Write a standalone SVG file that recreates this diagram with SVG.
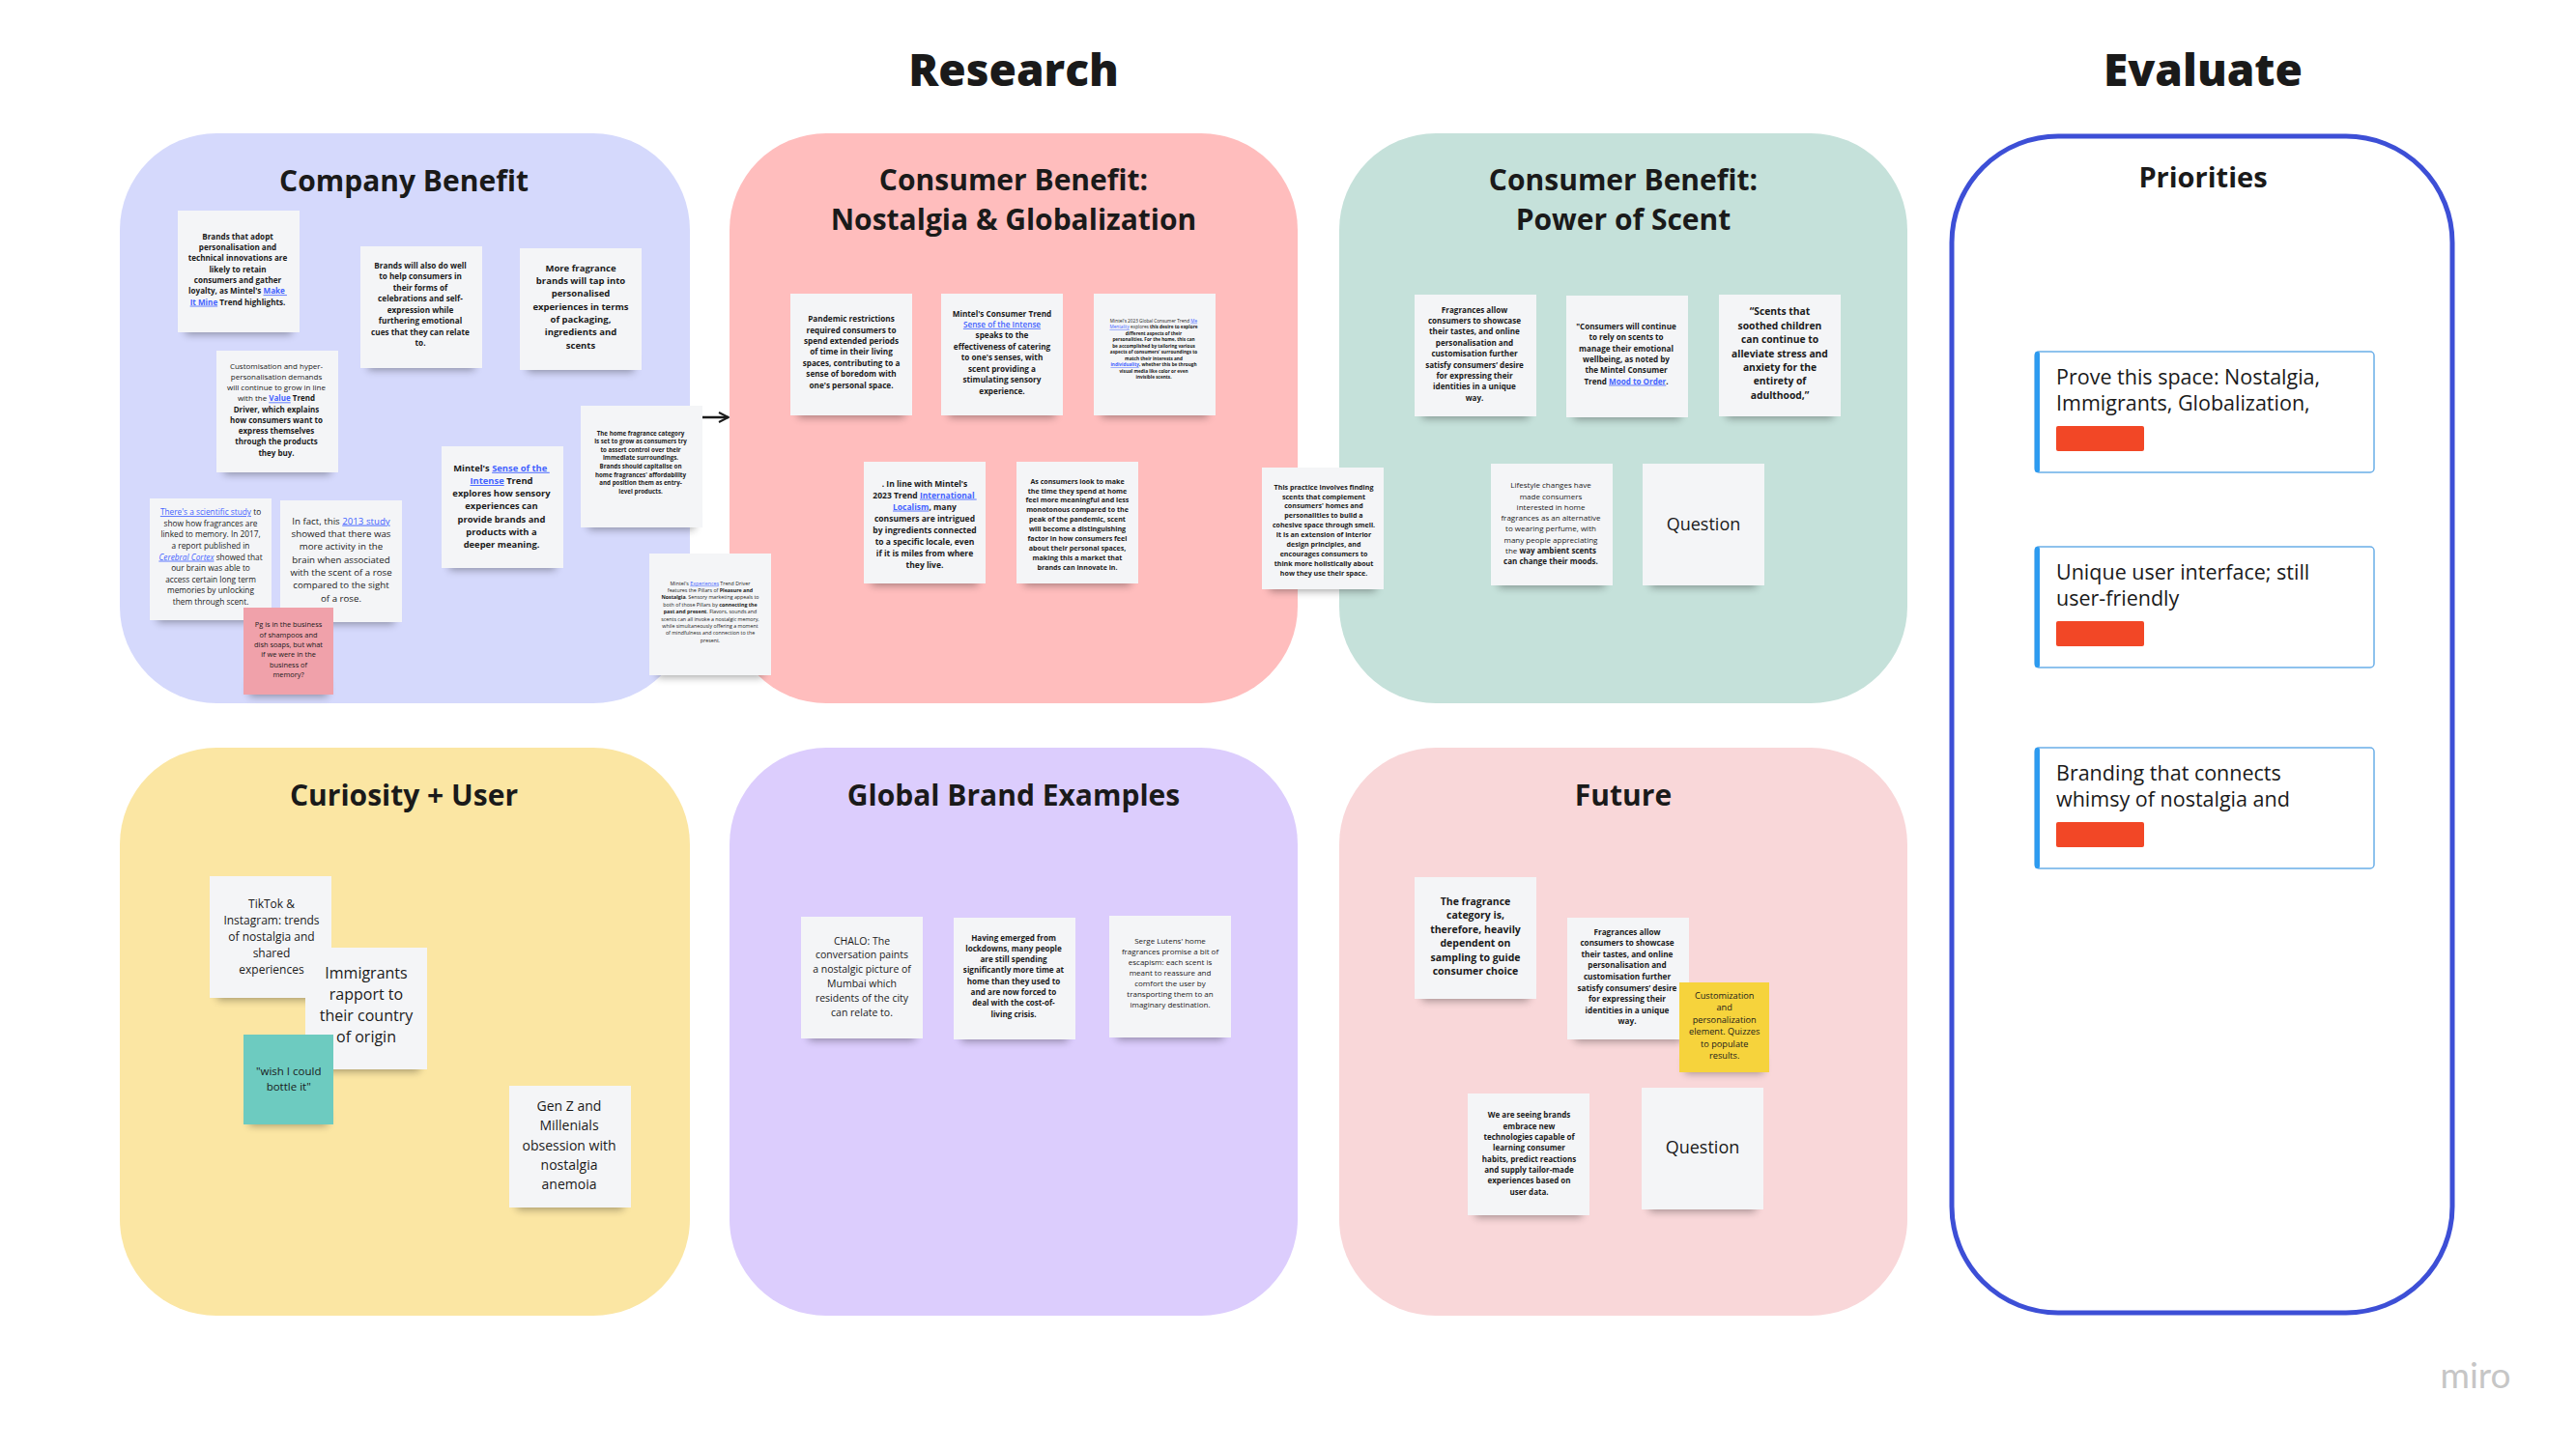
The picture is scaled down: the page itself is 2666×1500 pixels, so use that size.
<svg xmlns="http://www.w3.org/2000/svg" width="2666" height="1500" viewBox="0 0 2666 1500">
<defs>
<filter id="blur" x="-20%" y="-100%" width="140%" height="300%"><feGaussianBlur stdDeviation="4"/></filter>
<marker id="arr" viewBox="0 0 12 12" refX="11" refY="6" markerWidth="12" markerHeight="12" markerUnits="userSpaceOnUse" orient="auto"><path d="M1,1 L11,6 L1,11" fill="none" stroke="#1a1a1a" stroke-width="2"/></marker>
</defs>
<style>
.hd{font-family:"Open Sans","Liberation Sans",sans-serif;font-weight:800;font-size:46px;fill:#1a1a1a;text-anchor:middle}
.ft{font-family:"Open Sans","Liberation Sans",sans-serif;font-weight:700;font-size:30px;fill:#1a1a1a;text-anchor:middle}
.sh{fill:#000;opacity:.35;filter:url(#blur)}
.st{fill:#f4f5f7}
.t{font-family:"Open Sans","Liberation Sans",sans-serif;fill:#1a1a1a;text-anchor:middle}
.b{font-weight:700}
.n{font-weight:400}
.lk{fill:#4262ff;text-decoration:underline}
.card{fill:#fff;stroke:#6aaee8;stroke-width:1.5}
.bar{fill:#2d9bf0}
.tag{fill:#f24726}
.ct{font-family:"Open Sans","Liberation Sans",sans-serif;font-size:21.5px;fill:#1a1a1a}
</style>
<rect width="2666" height="1500" fill="#ffffff"/>
<text class="hd" x="1049" y="89">Research</text>
<text class="hd" x="2280" y="89">Evaluate</text>

<g id="frame-company"><rect x="124" y="138" width="590" height="590" rx="100" fill="#d5d9fc"/><text class="ft" x="418" y="198">Company Benefit</text></g>
<g id="frame-nostalgia"><rect x="755" y="138" width="588" height="590" rx="100" fill="#ffbdbd"/><text class="ft" x="1049" y="197">Consumer Benefit:</text><text class="ft" x="1049" y="238">Nostalgia &amp; Globalization</text></g>
<g id="frame-scent"><rect x="1386" y="138" width="588" height="590" rx="100" fill="#c5e1da"/><text class="ft" x="1680" y="197">Consumer Benefit:</text><text class="ft" x="1680" y="238">Power of Scent</text></g>
<g id="frame-curiosity"><rect x="124" y="774" width="590" height="588" rx="100" fill="#fbe6a3"/><text class="ft" x="418" y="834">Curiosity + User</text></g>
<g id="frame-global"><rect x="755" y="774" width="588" height="588" rx="100" fill="#dccdfd"/><text class="ft" x="1049" y="834">Global Brand Examples</text></g>
<g id="frame-future"><rect x="1386" y="774" width="588" height="588" rx="100" fill="#f9d7d9"/><text class="ft" x="1680" y="834">Future</text></g>
<g id="frame-priorities"><rect x="2020" y="141" width="518" height="1218" rx="110" fill="#fff" stroke="#3d4fd6" stroke-width="5"/><text class="ft" x="2280" y="194" style="font-size:29px">Priorities</text></g>

<g id="connectors"><line x1="715" y1="432" x2="754" y2="432" stroke="#1a1a1a" stroke-width="2.5" marker-end="url(#arr)"/></g>

<!-- Company Benefit stickies -->
<g id="s1" transform="translate(184,218)"><rect class="sh" x="8" y="110" width="110" height="18"/><rect class="st" width="126" height="126"/>
<text class="t b" font-size="8.1"><tspan x="62" y="29.5">Brands that adopt</tspan><tspan x="62" dy="11.35">personalisation and</tspan><tspan x="62" dy="11.35">technical innovations are</tspan><tspan x="62" dy="11.35">likely to retain</tspan><tspan x="62" dy="11.35">consumers and gather</tspan><tspan x="62" dy="11.35">loyalty, as Mintel's <tspan class="lk">Make </tspan></tspan><tspan x="62" dy="11.35"><tspan class="lk">It Mine</tspan> Trend highlights.</tspan></text></g>

<g id="s2" transform="translate(373,255)"><rect class="sh" x="8" y="110" width="110" height="18"/><rect class="st" width="126" height="126"/>
<text class="t b" font-size="8.2"><tspan x="62" y="22.8">Brands will also do well</tspan><tspan x="62" dy="11.47">to help consumers in</tspan><tspan x="62" dy="11.47">their forms of</tspan><tspan x="62" dy="11.47">celebrations and self-</tspan><tspan x="62" dy="11.47">expression while</tspan><tspan x="62" dy="11.47">furthering emotional</tspan><tspan x="62" dy="11.47">cues that they can relate</tspan><tspan x="62" dy="11.47">to.</tspan></text></g>

<g id="s3" transform="translate(538,257)"><rect class="sh" x="8" y="110" width="110" height="18"/><rect class="st" width="126" height="126"/>
<text class="t b" font-size="9.5"><tspan x="63" y="23.6">More fragrance</tspan><tspan x="63" dy="13.33">brands will tap into</tspan><tspan x="63" dy="13.33">personalised</tspan><tspan x="63" dy="13.33">experiences in terms</tspan><tspan x="63" dy="13.33">of packaging,</tspan><tspan x="63" dy="13.33">ingredients and</tspan><tspan x="63" dy="13.33">scents</tspan></text></g>

<g id="s4" transform="translate(224,363)"><rect class="sh" x="8" y="110" width="110" height="18"/><rect class="st" width="126" height="126"/>
<text class="t" font-size="8"><tspan x="62" y="18.7">Customisation and hyper-</tspan><tspan x="62" dy="11.25">personalisation demands</tspan><tspan x="62" dy="11.25">will continue to grow in line</tspan><tspan x="62" dy="11.25">with the <tspan class="lk b">Value</tspan><tspan class="b"> Trend</tspan></tspan><tspan class="b" x="62" dy="11.25">Driver, which explains</tspan><tspan class="b" x="62" dy="11.25">how consumers want to</tspan><tspan class="b" x="62" dy="11.25">express themselves</tspan><tspan class="b" x="62" dy="11.25">through the products</tspan><tspan class="b" x="62" dy="11.25">they buy.</tspan></text></g>

<g id="s5" transform="translate(457,462)"><rect class="sh" x="8" y="110" width="110" height="18"/><rect class="st" width="126" height="126"/>
<text class="t b" font-size="9.4"><tspan x="62" y="25.8">Mintel's <tspan class="lk">Sense of the </tspan></tspan><tspan x="62" dy="13.2"><tspan class="lk">Intense</tspan> Trend</tspan><tspan x="62" dy="13.2">explores how sensory</tspan><tspan x="62" dy="13.2">experiences can</tspan><tspan x="62" dy="13.2">provide brands and</tspan><tspan x="62" dy="13.2">products with a</tspan><tspan x="62" dy="13.2">deeper meaning.</tspan></text></g>

<g id="s6" transform="translate(601,420)"><rect class="sh" x="8" y="110" width="110" height="18"/><rect class="st" width="126" height="126"/>
<text class="t b" font-size="6.2"><tspan x="62" y="30.6">The home fragrance category</tspan><tspan x="62" dy="8.6">is set to grow as consumers try</tspan><tspan x="62" dy="8.6">to assert control over their</tspan><tspan x="62" dy="8.6">immediate surroundings.</tspan><tspan x="62" dy="8.6">Brands should capitalise on</tspan><tspan x="62" dy="8.6">home fragrances' affordability</tspan><tspan x="62" dy="8.6">and position them as entry-</tspan><tspan x="62" dy="8.6">level products.</tspan></text></g>

<g id="s7" transform="translate(155,516)"><rect class="sh" x="8" y="110" width="110" height="18"/><rect class="st" width="126" height="126"/>
<text class="t" font-size="8.3"><tspan x="63" y="17.2"><tspan class="lk">There's a scientific study</tspan> to</tspan><tspan x="63" dy="11.6">show how fragrances are</tspan><tspan x="63" dy="11.6">linked to memory. In 2017,</tspan><tspan x="63" dy="11.6">a report published in</tspan><tspan x="63" dy="11.6"><tspan class="lk" font-style="italic">Cerebral Cortex</tspan> showed that</tspan><tspan x="63" dy="11.6">our brain was able to</tspan><tspan x="63" dy="11.6">access certain long term</tspan><tspan x="63" dy="11.6">memories by unlocking</tspan><tspan x="63" dy="11.6">them through scent.</tspan></text></g>

<g id="s8" transform="translate(290,518)"><rect class="sh" x="8" y="110" width="110" height="18"/><rect class="st" width="126" height="126"/>
<text class="t" font-size="9.7"><tspan x="63" y="24.6">In fact, this <tspan class="lk">2013 study</tspan></tspan><tspan x="63" dy="13.33">showed that there was</tspan><tspan x="63" dy="13.33">more activity in the</tspan><tspan x="63" dy="13.33">brain when associated</tspan><tspan x="63" dy="13.33">with the scent of a rose</tspan><tspan x="63" dy="13.33">compared to the sight</tspan><tspan x="63" dy="13.33">of a rose.</tspan></text></g>

<g id="pink" transform="translate(252,629)"><rect class="sh" x="6" y="76" width="81" height="16"/><rect fill="#f0a1aa" width="93" height="90"/>
<text class="t" font-size="7.4"><tspan x="46.5" y="20.2">Pg is in the business</tspan><tspan x="46.5" dy="10.4">of shampoos and</tspan><tspan x="46.5" dy="10.4">dish soaps, but what</tspan><tspan x="46.5" dy="10.4">if we were in the</tspan><tspan x="46.5" dy="10.4">business of</tspan><tspan x="46.5" dy="10.4">memory?</tspan></text></g>

<g id="s9" transform="translate(672,573)"><rect class="sh" x="8" y="110" width="110" height="18"/><rect class="st" width="126" height="126"/>
<text class="t" font-size="5.3"><tspan x="63" y="32.6">Mintel's <tspan class="lk">Experiences</tspan> Trend Driver</tspan><tspan x="63" dy="7.4">features the Pillars of <tspan class="b">Pleasure and</tspan></tspan><tspan x="63" dy="7.4"><tspan class="b">Nostalgia</tspan>. Sensory marketing appeals to</tspan><tspan x="63" dy="7.4">both of those Pillars by <tspan class="b">connecting the</tspan></tspan><tspan x="63" dy="7.4"><tspan class="b">past and present</tspan>. Flavors, sounds and</tspan><tspan x="63" dy="7.4">scents can all invoke a nostalgic memory,</tspan><tspan x="63" dy="7.4">while simultaneously offering a moment</tspan><tspan x="63" dy="7.4">of mindfulness and connection to the</tspan><tspan x="63" dy="7.4">present.</tspan></text></g>

<!-- Nostalgia stickies -->
<g id="n1" transform="translate(818,304)"><rect class="sh" x="8" y="110" width="110" height="18"/><rect class="st" width="126" height="126"/>
<text class="t b" font-size="8.2"><tspan x="63" y="29.2">Pandemic restrictions</tspan><tspan x="63" dy="11.43">required consumers to</tspan><tspan x="63" dy="11.43">spend extended periods</tspan><tspan x="63" dy="11.43">of time in their living</tspan><tspan x="63" dy="11.43">spaces, contributing to a</tspan><tspan x="63" dy="11.43">sense of boredom with</tspan><tspan x="63" dy="11.43">one's personal space.</tspan></text></g>

<g id="n2" transform="translate(974,304)"><rect class="sh" x="8" y="110" width="110" height="18"/><rect class="st" width="126" height="126"/>
<text class="t b" font-size="8.2"><tspan x="63" y="23.5">Mintel's Consumer Trend</tspan><tspan x="63" dy="11.43" class="lk" font-weight="600">Sense of the Intense</tspan><tspan x="63" dy="11.43">speaks to the</tspan><tspan x="63" dy="11.43">effectiveness of catering</tspan><tspan x="63" dy="11.43">to one's senses, with</tspan><tspan x="63" dy="11.43">scent providing a</tspan><tspan x="63" dy="11.43">stimulating sensory</tspan><tspan x="63" dy="11.43">experience.</tspan></text></g>

<g id="n3" transform="translate(1132,304)"><rect class="sh" x="8" y="110" width="110" height="18"/><rect class="st" width="126" height="126"/>
<text class="t b" font-size="4.7"><tspan x="62" y="29.7" class="n">Mintel's 2023 Global Consumer Trend <tspan class="lk">Me</tspan></tspan><tspan x="62" dy="6.5"><tspan class="lk n">Mentality</tspan><tspan class="n"> explores</tspan> this desire to explore</tspan><tspan x="62" dy="6.5">different aspects of their</tspan><tspan x="62" dy="6.5">personalities. For the home, this can</tspan><tspan x="62" dy="6.5">be accomplished by tailoring various</tspan><tspan x="62" dy="6.5">aspects of consumers' surroundings to</tspan><tspan x="62" dy="6.5">match their interests and</tspan><tspan x="62" dy="6.5"><tspan class="lk">individuality</tspan>, whether this be through</tspan><tspan x="62" dy="6.5">visual media like color or even</tspan><tspan x="62" dy="6.5">invisible scents.</tspan></text></g>

<g id="n4" transform="translate(894,478)"><rect class="sh" x="8" y="110" width="110" height="18"/><rect class="st" width="126" height="126"/>
<text class="t b" font-size="8.5"><tspan x="63" y="25.6">. In line with Mintel's</tspan><tspan x="63" dy="12">2023 Trend <tspan class="lk">International </tspan></tspan><tspan x="63" dy="12"><tspan class="lk">Localism</tspan>, many</tspan><tspan x="63" dy="12">consumers are intrigued</tspan><tspan x="63" dy="12">by ingredients connected</tspan><tspan x="63" dy="12">to a specific locale, even</tspan><tspan x="63" dy="12">if it is miles from where</tspan><tspan x="63" dy="12">they live.</tspan></text></g>

<g id="n5" transform="translate(1052,478)"><rect class="sh" x="8" y="110" width="110" height="18"/><rect class="st" width="126" height="126"/>
<text class="t b" font-size="7.1"><tspan x="63" y="22.6">As consumers look to make</tspan><tspan x="63" dy="9.94">the time they spend at home</tspan><tspan x="63" dy="9.94">feel more meaningful and less</tspan><tspan x="63" dy="9.94">monotonous compared to the</tspan><tspan x="63" dy="9.94">peak of the pandemic, scent</tspan><tspan x="63" dy="9.94">will become a distinguishing</tspan><tspan x="63" dy="9.94">factor in how consumers feel</tspan><tspan x="63" dy="9.94">about their personal spaces,</tspan><tspan x="63" dy="9.94">making this a market that</tspan><tspan x="63" dy="9.94">brands can innovate in.</tspan></text></g>

<g id="n6" transform="translate(1306,484)"><rect class="sh" x="8" y="110" width="110" height="18"/><rect class="st" width="126" height="126"/>
<text class="t b" font-size="7.1"><tspan x="64" y="22.6">This practice involves finding</tspan><tspan x="64" dy="9.9">scents that complement</tspan><tspan x="64" dy="9.9">consumers' homes and</tspan><tspan x="64" dy="9.9">personalities to build a</tspan><tspan x="64" dy="9.9">cohesive space through smell.</tspan><tspan x="64" dy="9.9">It is an extension of interior</tspan><tspan x="64" dy="9.9">design principles, and</tspan><tspan x="64" dy="9.9">encourages consumers to</tspan><tspan x="64" dy="9.9">think more holistically about</tspan><tspan x="64" dy="9.9">how they use their space.</tspan></text></g>

<!-- Power of Scent stickies -->
<g id="p1" transform="translate(1464,305)"><rect class="sh" x="8" y="110" width="110" height="18"/><rect class="st" width="126" height="126"/>
<text class="t b" font-size="8.1"><tspan x="62" y="18.5">Fragrances allow</tspan><tspan x="62" dy="11.4">consumers to showcase</tspan><tspan x="62" dy="11.4">their tastes, and online</tspan><tspan x="62" dy="11.4">personalisation and</tspan><tspan x="62" dy="11.4">customisation further</tspan><tspan x="62" dy="11.4">satisfy consumers’ desire</tspan><tspan x="62" dy="11.4">for expressing their</tspan><tspan x="62" dy="11.4">identities in a unique</tspan><tspan x="62" dy="11.4">way.</tspan></text></g>

<g id="p2" transform="translate(1621,306)"><rect class="sh" x="8" y="110" width="110" height="18"/><rect class="st" width="126" height="126"/>
<text class="t b" font-size="8.1"><tspan x="62" y="34.8">"Consumers will continue</tspan><tspan x="62" dy="11.35">to rely on scents to</tspan><tspan x="62" dy="11.35">manage their emotional</tspan><tspan x="62" dy="11.35">wellbeing, as noted by</tspan><tspan x="62" dy="11.35">the Mintel Consumer</tspan><tspan x="62" dy="11.35">Trend <tspan class="lk">Mood to Order</tspan>.</tspan></text></g>

<g id="p3" transform="translate(1779,305)"><rect class="sh" x="8" y="110" width="110" height="18"/><rect class="st" width="126" height="126"/>
<text class="t b" font-size="10.3"><tspan x="63" y="21.4">“Scents that</tspan><tspan x="63" dy="14.4">soothed children</tspan><tspan x="63" dy="14.4">can continue to</tspan><tspan x="63" dy="14.4">alleviate stress and</tspan><tspan x="63" dy="14.4">anxiety for the</tspan><tspan x="63" dy="14.4">entirety of</tspan><tspan x="63" dy="14.4">adulthood,”</tspan></text></g>

<g id="p4" transform="translate(1543,480)"><rect class="sh" x="8" y="110" width="110" height="18"/><rect class="st" width="126" height="126"/>
<text class="t" font-size="8"><tspan x="62" y="25.4">Lifestyle changes have</tspan><tspan x="62" dy="11.25">made consumers</tspan><tspan x="62" dy="11.25">interested in home</tspan><tspan x="62" dy="11.25">fragrances as an alternative</tspan><tspan x="62" dy="11.25">to wearing perfume, with</tspan><tspan x="62" dy="11.25">many people appreciating</tspan><tspan x="62" dy="11.25">the <tspan class="b">way ambient scents</tspan></tspan><tspan x="62" dy="11.25" class="b">can change their moods.</tspan></text></g>

<g id="p5" transform="translate(1700,480)"><rect class="sh" x="8" y="110" width="110" height="18"/><rect class="st" width="126" height="126"/>
<text class="t" font-size="18" x="63" y="69">Question</text></g>

<!-- Curiosity + User stickies -->
<g id="c1" transform="translate(217,907)"><rect class="sh" x="8" y="110" width="110" height="18"/><rect class="st" width="126" height="126"/>
<text class="t" font-size="12"><tspan x="64" y="33.3">TikTok &amp;</tspan><tspan x="64" dy="16.8">Instagram: trends</tspan><tspan x="64" dy="16.8">of nostalgia and</tspan><tspan x="64" dy="16.8">shared</tspan><tspan x="64" dy="16.8">experiences</tspan></text></g>

<g id="c2" transform="translate(316,981)"><rect class="sh" x="8" y="110" width="110" height="18"/><rect class="st" width="126" height="126"/>
<text class="t" font-size="16"><tspan x="63" y="32">Immigrants</tspan><tspan x="63" dy="22">rapport to</tspan><tspan x="63" dy="22">their country</tspan><tspan x="63" dy="22">of origin</tspan></text></g>

<g id="c3" transform="translate(252,1071)"><rect class="sh" x="6" y="78" width="81" height="16"/><rect fill="#6dcbc0" width="93" height="93"/>
<text class="t" font-size="11.5"><tspan x="46.7" y="41.5">"wish I could</tspan><tspan x="46.7" dy="16">bottle it"</tspan></text></g>

<g id="c4" transform="translate(527,1124)"><rect class="sh" x="8" y="110" width="110" height="18"/><rect class="st" width="126" height="126"/>
<text class="t" font-size="14"><tspan x="62" y="26.2">Gen Z and</tspan><tspan x="62" dy="20.2">Millenials</tspan><tspan x="62" dy="20.2">obsession with</tspan><tspan x="62" dy="20.2">nostalgia</tspan><tspan x="62" dy="20.2">anemoia</tspan></text></g>

<!-- Global Brand Examples stickies -->
<g id="g1" transform="translate(829,949)"><rect class="sh" x="8" y="110" width="110" height="18"/><rect class="st" width="126" height="126"/>
<text class="t" font-size="10.5"><tspan x="63" y="28.5">CHALO: The</tspan><tspan x="63" dy="14.8">conversation paints</tspan><tspan x="63" dy="14.8">a nostalgic picture of</tspan><tspan x="63" dy="14.8">Mumbai which</tspan><tspan x="63" dy="14.8">residents of the city</tspan><tspan x="63" dy="14.8">can relate to.</tspan></text></g>

<g id="g2" transform="translate(987,950)"><rect class="sh" x="8" y="110" width="110" height="18"/><rect class="st" width="126" height="126"/>
<text class="t b" font-size="8.1"><tspan x="62" y="23.5">Having emerged from</tspan><tspan x="62" dy="11.33">lockdowns, many people</tspan><tspan x="62" dy="11.33">are still spending</tspan><tspan x="62" dy="11.33">significantly more time at</tspan><tspan x="62" dy="11.33">home than they used to</tspan><tspan x="62" dy="11.33">and are now forced to</tspan><tspan x="62" dy="11.33">deal with the cost-of-</tspan><tspan x="62" dy="11.33">living crisis.</tspan></text></g>

<g id="g3" transform="translate(1148,948)"><rect class="sh" x="8" y="110" width="110" height="18"/><rect class="st" width="126" height="126"/>
<text class="t" font-size="8"><tspan x="63" y="28.7">Serge Lutens' home</tspan><tspan x="63" dy="11">fragrances promise a bit of</tspan><tspan x="63" dy="11">escapism: each scent is</tspan><tspan x="63" dy="11">meant to reassure and</tspan><tspan x="63" dy="11">comfort the user by</tspan><tspan x="63" dy="11">transporting them to an</tspan><tspan x="63" dy="11">imaginary destination.</tspan></text></g>

<!-- Future stickies -->
<g id="f1" transform="translate(1464,908)"><rect class="sh" x="8" y="110" width="110" height="18"/><rect class="st" width="126" height="126"/>
<text class="t b" font-size="10.5"><tspan x="63" y="28.5">The fragrance</tspan><tspan x="63" dy="14.5">category is,</tspan><tspan x="63" dy="14.5">therefore, heavily</tspan><tspan x="63" dy="14.5">dependent on</tspan><tspan x="63" dy="14.5">sampling to guide</tspan><tspan x="63" dy="14.5">consumer choice</tspan></text></g>

<g id="f2" transform="translate(1622,950)"><rect class="sh" x="8" y="110" width="110" height="18"/><rect class="st" width="126" height="126"/>
<text class="t b" font-size="8.2"><tspan x="62" y="17.5">Fragrances allow</tspan><tspan x="62" dy="11.6">consumers to showcase</tspan><tspan x="62" dy="11.6">their tastes, and online</tspan><tspan x="62" dy="11.6">personalisation and</tspan><tspan x="62" dy="11.6">customisation further</tspan><tspan x="62" dy="11.6">satisfy consumers’ desire</tspan><tspan x="62" dy="11.6">for expressing their</tspan><tspan x="62" dy="11.6">identities in a unique</tspan><tspan x="62" dy="11.6">way.</tspan></text></g>

<g id="f3" transform="translate(1738,1017)"><rect class="sh" x="6" y="78" width="81" height="16"/><rect fill="#f6d33c" width="93" height="93"/>
<text class="t" font-size="9.2"><tspan x="46.7" y="17">Customization</tspan><tspan x="46.7" dy="12.4">and</tspan><tspan x="46.7" dy="12.4">personalization</tspan><tspan x="46.7" dy="12.4">element. Quizzes</tspan><tspan x="46.7" dy="12.4">to populate</tspan><tspan x="46.7" dy="12.4">results.</tspan></text></g>

<g id="f4" transform="translate(1519,1132)"><rect class="sh" x="8" y="110" width="110" height="18"/><rect class="st" width="126" height="126"/>
<text class="t b" font-size="8"><tspan x="63.5" y="25.4">We are seeing brands</tspan><tspan x="63.5" dy="11.3">embrace new</tspan><tspan x="63.5" dy="11.3">technologies capable of</tspan><tspan x="63.5" dy="11.3">learning consumer</tspan><tspan x="63.5" dy="11.3">habits, predict reactions</tspan><tspan x="63.5" dy="11.3">and supply tailor-made</tspan><tspan x="63.5" dy="11.3">experiences based on</tspan><tspan x="63.5" dy="11.3">user data.</tspan></text></g>

<g id="f5" transform="translate(1699,1126)"><rect class="sh" x="8" y="110" width="110" height="18"/><rect class="st" width="126" height="126"/>
<text class="t" font-size="18" x="63" y="68">Question</text></g>

<!-- Priority cards -->
<g id="card1" transform="translate(2106,364)"><rect class="card" width="351" height="125" rx="4"/><rect class="bar" width="5" height="125" rx="2"/>
<text class="ct"><tspan x="22" y="34">Prove this space: Nostalgia,</tspan><tspan x="22" y="61">Immigrants, Globalization,</tspan></text><rect class="tag" x="22" y="77" width="91" height="26" rx="2"/></g>
<g id="card2" transform="translate(2106,566)"><rect class="card" width="351" height="125" rx="4"/><rect class="bar" width="5" height="125" rx="2"/>
<text class="ct"><tspan x="22" y="34">Unique user interface; still</tspan><tspan x="22" y="61">user-friendly</tspan></text><rect class="tag" x="22" y="77" width="91" height="26" rx="2"/></g>
<g id="card3" transform="translate(2106,774)"><rect class="card" width="351" height="125" rx="4"/><rect class="bar" width="5" height="125" rx="2"/>
<text class="ct"><tspan x="22" y="34">Branding that connects</tspan><tspan x="22" y="61">whimsy of nostalgia and</tspan></text><rect class="tag" x="22" y="77" width="91" height="26" rx="2"/></g>

<text x="2562" y="1437" font-family="Lato, 'Open Sans', sans-serif" font-weight="400" font-size="37" fill="#c6c6c6" text-anchor="middle">miro</text>
</svg>
